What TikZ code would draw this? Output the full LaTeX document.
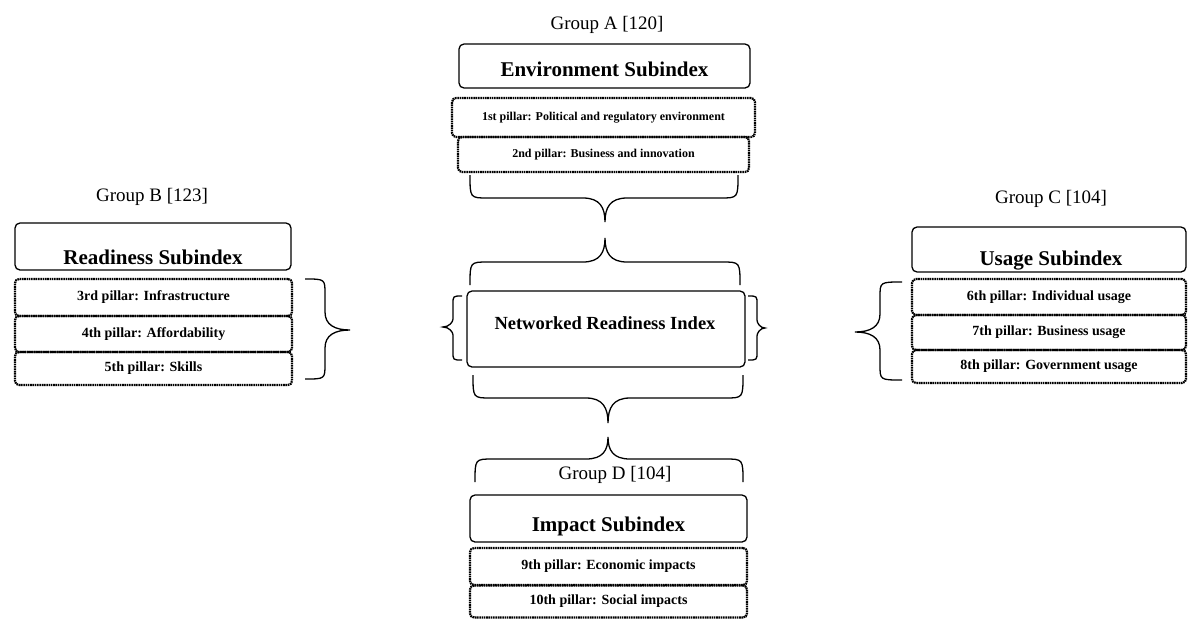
\documentclass[tikz,border=0pt]{standalone}
\usepackage{fontspec}
\setmainfont{Liberation Serif}
\newcommand\myHbrace[8]{% x1 x2 y0 yh xm yt r t
  \draw[br] (#1,#3) .. controls (#1,#4) and (#1,#4) .. ({#1+#7},#4) -- ({#5-#8},#4)
    .. controls ({#5-5},#4) and (#5,{#4+(#6-#4)*0.4}) .. (#5,#6)
    .. controls (#5,{#4+(#6-#4)*0.4}) and ({#5+5},#4) .. ({#5+#8},#4)
    -- ({#2-#7},#4) .. controls (#2,#4) and (#2,#4) .. (#2,#3);}
\newcommand\myVbrace[8]{% y1 y2 x0 xh ym xt r t
  \draw[br] (#3,#1) .. controls (#4,#1) and (#4,#1) .. (#4,{#1+#7}) -- (#4,{#5-#8})
    .. controls (#4,{#5-5}) and ({#4+(#6-#4)*0.4},#5) .. (#6,#5)
    .. controls ({#4+(#6-#4)*0.4},#5) and (#4,{#5+5}) .. (#4,{#5+#8})
    -- (#4,{#2-#7}) .. controls (#4,#2) and (#4,#2) .. (#3,#2);}
\tikzset{
  br/.style={line width=1.3pt, black},
  subbox/.style={draw, line width=1.3pt, rounded corners=5pt, inner sep=0pt},
  pillar/.style={draw, line width=2.2pt, dash pattern=on 1.6pt off 0.7pt, rounded corners=4pt, inner sep=0pt, font=\bfseries\fontsize{14}{14}\selectfont},
  pillarA/.style={pillar, font=\bfseries\fontsize{12}{12}\selectfont},
  grp/.style={font=\fontsize{19}{19}\selectfont, anchor=base},
  ttl/.style={font=\bfseries\fontsize{21}{21}\selectfont, anchor=base},
}
\begin{document}
\begin{tikzpicture}[x=1pt, y=-1pt]
\useasboundingbox (0,0) rectangle (1188,619);
% Group A
\node[grp] (ga) at (607,29) {Group A [120]};
\node[subbox, minimum width=291pt, minimum height=44pt] (env) at (604.5,66) {};
\node[ttl] (envt) at (604.5,76) {Environment Subindex};
\node[pillarA, minimum width=303pt, minimum height=39pt] (p1) at (603.5,117.5) {1st pillar: Political and regulatory environment};
\node[pillarA, minimum width=291pt, minimum height=35pt] (p2) at (603.5,154.5) {2nd pillar: Business and innovation};
\myHbrace{470}{738}{175}{198}{605}{222}{18}{22}
% NRI
\myHbrace{470}{740}{285}{262}{605}{238}{18}{22}
\node[subbox, minimum width=278pt, minimum height=76pt] (nri) at (606,329) {};
\node[font=\bfseries\fontsize{18.5}{18.5}\selectfont] (nrit) at (605,323) {Networked Readiness Index};
\myVbrace{296}{360}{462}{453}{327}{443}{8}{8}
\myVbrace{296}{360}{748}{757}{328}{765}{8}{8}
\myHbrace{473}{743}{375}{398}{608}{423}{18}{22}
% Group B
\node[grp] (gb) at (152,201) {Group B [123]};
\node[subbox, minimum width=276pt, minimum height=47pt] (rd) at (153,246.5) {};
\node[ttl] (rdt) at (153,264) {Readiness Subindex};
\node[pillar, minimum width=277pt, minimum height=37pt] (p3) at (153.5,297.5) {3rd pillar: Infrastructure};
\node[pillar, minimum width=277pt, minimum height=36pt] (p4) at (153.5,334) {4th pillar: Affordability};
\node[pillar, minimum width=277pt, minimum height=33pt] (p5) at (153.5,368.5) {5th pillar: Skills};
\myVbrace{279}{379}{305}{325}{330}{350}{15}{18}
% Group C
\node[grp] (gc) at (1051,203) {Group C [104]};
\node[subbox, minimum width=274pt, minimum height=45pt] (us) at (1049,249.5) {};
\node[ttl] (ust) at (1051,265) {Usage Subindex};
\node[pillar, minimum width=274pt, minimum height=36pt] (p6) at (1049,297) {6th pillar: Individual usage};
\node[pillar, minimum width=274pt, minimum height=35pt] (p7) at (1049,332.5) {7th pillar: Business usage};
\node[pillar, minimum width=274pt, minimum height=33pt] (p8) at (1049,366.5) {8th pillar: Government usage};
\myVbrace{282}{380}{902}{880}{332}{855}{15}{18}
% Group D
\myHbrace{475}{743}{482}{459}{608}{437}{18}{22}
\node[grp] (gd) at (615,479) {Group D [104]};
\node[subbox, minimum width=277pt, minimum height=47pt] (im) at (608.5,518.5) {};
\node[ttl] (imt) at (608.5,531) {Impact Subindex};
\node[pillar, minimum width=277pt, minimum height=37pt] (p9) at (608.5,566.5) {9th pillar: Economic impacts};
\node[pillar, minimum width=277pt, minimum height=32pt] (p10) at (608.5,601.5) {10th pillar: Social impacts};
\end{tikzpicture}
\end{document}
